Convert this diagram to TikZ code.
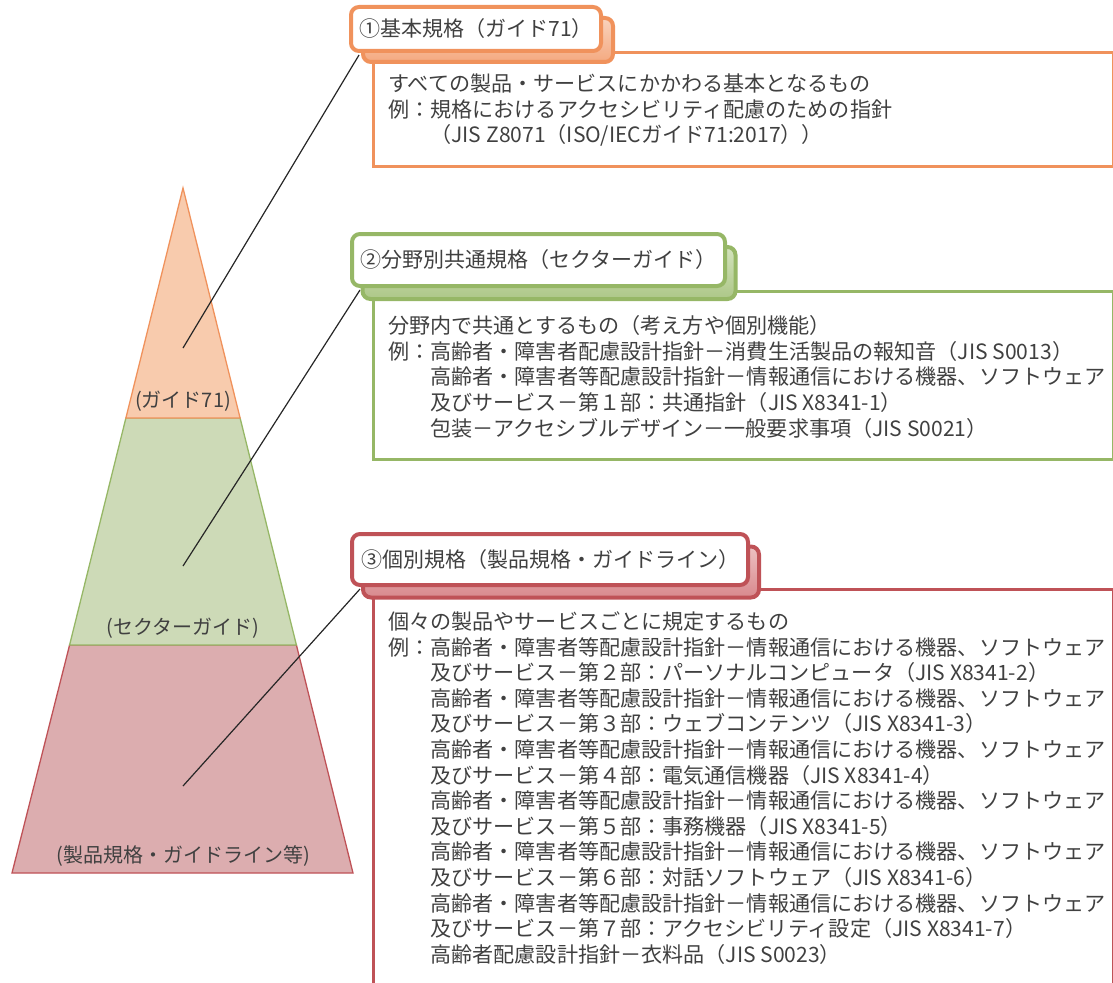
\documentclass[tikz,border=0pt]{standalone}
\usepackage{fontspec}
\setmainfont{Noto Sans CJK JP}
\usetikzlibrary{calc}
\definecolor{orB}{HTML}{F0925C}
\definecolor{orF}{HTML}{F8CBAD}
\definecolor{orS}{HTML}{F9D3BD}
\definecolor{orT}{HTML}{F4A980}
\definecolor{grB}{HTML}{96B766}
\definecolor{grF}{HTML}{CDDAB7}
\definecolor{grS}{HTML}{D3E3BC}
\definecolor{grT}{HTML}{ADC788}
\definecolor{rdB}{HTML}{BF5257}
\definecolor{rdF}{HTML}{DCADAF}
\definecolor{rdS}{HTML}{EDC0C2}
\definecolor{rdT}{HTML}{D8898D}
\definecolor{txt}{HTML}{404040}
\pgfdeclarelayer{tri}
\pgfdeclarelayer{links}
\pgfsetlayers{tri,links,main}
\begin{document}
\begin{tikzpicture}[x=1pt,y=-1pt,
  hdr/.style={draw=#1, line width=4pt, rounded corners=8pt, fill=white, text=txt,
    font=\fontsize{21}{24}\selectfont, inner sep=0pt},
  shd/.style={draw=#1, line width=4pt, rounded corners=8pt, inner sep=0pt},
  body/.style={draw=#1, line width=3pt},
  para/.style={anchor=north west, align=left, inner sep=0pt, text=txt,
    font=\fontsize{21.1}{25.6}\selectfont},
  tlab/.style={text=txt, font=\fontsize{20}{24}\selectfont, inner sep=0pt},
  link/.style={draw=black!85, line width=1.2pt},
  seg/.style 2 args={fill=#1, draw=#2, line width=1.3pt, line join=miter}]
\useasboundingbox (0,0) rectangle (1113,982);

% ---- box 1 ----
\draw[body=orB] (373.5,52.5) rectangle (1113,166.5);
\node[shd=orB, top color=orS, bottom color=orT, minimum width=250pt, minimum height=44pt] (s1) at (488,40) {};
\node[hdr=orB, minimum width=250pt, minimum height=44pt] (h1) at (476,29) {①基本規格（ガイド71）};
\node[para] (t1) at (388,73.5) {すべての製品・サービスにかかわる基本となるもの\\
例：規格におけるアクセシビリティ配慮のための指針\\
　　（JIS Z8071（ISO/IECガイド71:2017））};

% ---- box 2 ----
\draw[body=grB] (373.5,291) rectangle (1113,459);
\node[shd=grB, top color=grS, bottom color=grT, minimum width=373pt, minimum height=52pt] (s2) at (549,273) {};
\node[hdr=grB, minimum width=373pt, minimum height=52pt] (h2) at (538.5,260) {②分野別共通規格（セクターガイド）};
\node[para] (t2) at (388,315.5) {分野内で共通とするもの（考え方や個別機能）\\
例：高齢者・障害者配慮設計指針－消費生活製品の報知音（JIS S0013）\\
　　高齢者・障害者等配慮設計指針－情報通信における機器、ソフトウェア\\
　　及びサービス－第１部：共通指針（JIS X8341-1）\\
　　包装－アクセシブルデザイン－一般要求事項（JIS S0021）};

% ---- box 3 ----
\draw[body=rdB] (373.5,990) -- (373.5,589.5) -- (1113,589.5) -- (1113,990);
\node[shd=rdB, top color=rdS, bottom color=rdT, minimum width=396pt, minimum height=51pt] (s3) at (561,572) {};
\node[hdr=rdB, minimum width=396pt, minimum height=51pt] (h3) at (550,559.5) {③個別規格（製品規格・ガイドライン）};
\node[para] (t3) at (388,611.5) {個々の製品やサービスごとに規定するもの\\
例：高齢者・障害者等配慮設計指針－情報通信における機器、ソフトウェア\\
　　及びサービス－第２部：パーソナルコンピュータ（JIS X8341-2）\\
　　高齢者・障害者等配慮設計指針－情報通信における機器、ソフトウェア\\
　　及びサービス－第３部：ウェブコンテンツ（JIS X8341-3）\\
　　高齢者・障害者等配慮設計指針－情報通信における機器、ソフトウェア\\
　　及びサービス－第４部：電気通信機器（JIS X8341-4）\\
　　高齢者・障害者等配慮設計指針－情報通信における機器、ソフトウェア\\
　　及びサービス－第５部：事務機器（JIS X8341-5）\\
　　高齢者・障害者等配慮設計指針－情報通信における機器、ソフトウェア\\
　　及びサービス－第６部：対話ソフトウェア（JIS X8341-6）\\
　　高齢者・障害者等配慮設計指針－情報通信における機器、ソフトウェア\\
　　及びサービス－第７部：アクセシビリティ設定（JIS X8341-7）\\
　　高齢者配慮設計指針－衣料品（JIS S0023）};

% ---- pyramid ----
\coordinate (apex) at (183,188);
\coordinate (ogL) at (125.9,418);
\coordinate (ogR) at (240.1,418);
\coordinate (grL) at (69.6,645);
\coordinate (grR) at (296.4,645);
\coordinate (bL) at (12,873);
\coordinate (bR) at (353,873);
\begin{pgfonlayer}{tri}
\filldraw[seg={rdF}{rdB}] (grL) -- (grR) -- (bR) -- (bL) -- cycle;
\filldraw[seg={grF}{grB}] (ogL) -- (ogR) -- (grR) -- (grL) -- cycle;
\filldraw[seg={orF}{orB}] (apex) -- (ogR) -- (ogL) -- cycle;
\end{pgfonlayer}
\node[tlab] (l1) at (183,401) {(ガイド71)};
\node[tlab] (l2) at (183,628) {(セクターガイド)};
\node[tlab] (l3) at (183,856) {(製品規格・ガイドライン等)};

% ---- connectors ----
\coordinate (p1) at (183,348);
\coordinate (p2) at (183,566);
\coordinate (p3) at (183,786);
\begin{pgfonlayer}{links}
\draw[link] (p1) -- ($(h1.south west)+(10,2)$);
\draw[link] (p2) -- ($(h2.south west)+(10,2)$);
\draw[link] (p3) -- ($(h3.south west)+(10,2)$);
\end{pgfonlayer}
\end{tikzpicture}
\end{document}
